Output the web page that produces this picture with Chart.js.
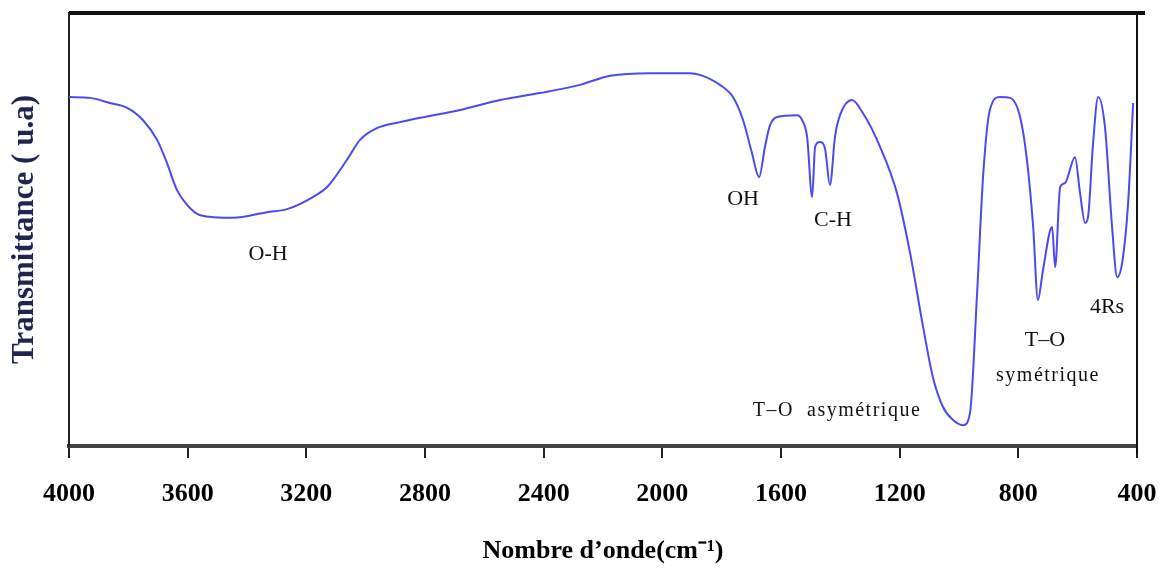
<!DOCTYPE html>
<html>
<head>
<meta charset="utf-8">
<script src="https://cdn.jsdelivr.net/npm/chart.js@4/dist/chart.umd.min.js"></script>
<style>
html,body{margin:0;padding:0;background:#fff;}
#wrap{width:1159px;height:569px;position:relative;}
</style>
</head>
<body>
<div id="wrap"><canvas id="c" width="1159" height="569"></canvas></div>
<script>
// Wavenumbers (cm-1)
const wavenumbers = [4000,3929,3862,3804,3751,3703,3670,3636,3602,3558,3447,3333,3265,3178,3130,3063,3019,2962,2884,2817,2682,2547,2412,2278,2176,2042,1907,1873,1806,1762,1728,1698,1674,1654,1637,1613,1546,1529,1512,1495,1485,1469,1452,1435,1418,1401,1361,1324,1266,1209,1165,1121,1088,1054,1020,986,963,939,919,896,862,828,794,771,750,734,717,686,676,659,643,609,592,575,565,548,531,508,484,467,450,430,413];
// Transmittance (u.a)
const transmittance = [80.6,80.4,79.2,78.1,75.3,70.7,65.4,59.1,55.7,53.3,52.7,54.0,54.7,57.5,59.8,66.1,70.7,73.4,74.8,75.8,77.6,79.9,81.5,83.4,85.5,86.1,86.1,85.7,83.4,80.6,75.3,67.7,62.1,69.1,74.1,76.0,76.4,75.3,71.4,57.5,69.1,70.2,68.8,60.3,71.4,76.4,79.9,76.9,69.1,58.4,44.6,27.5,15.9,9.0,6.0,4.8,7.6,35.3,62.1,77.6,80.6,80.4,76.0,66.1,50.6,33.7,40.6,50.6,41.3,59.8,60.7,66.7,58.4,51.5,52.9,70.0,80.6,73.7,50.6,39.0,42.3,56.1,79.2];
// Tick labels on the x axis
const xTicks = [4000,3600,3200,2800,2400,2000,1600,1200,800,400];
// Band labels
const bandLabels = ["O-H","OH","C-H","T\u2013O  asym\u00e9trique","T\u2013O","sym\u00e9trique","4Rs"];
const bandWavenumbers = [3329,1728,1425,1411,710,700,501];
const bandLevels = [44.3,57.0,52.2,8.1,24.5,16.2,32.1];

const points = wavenumbers.map((w,i)=>({x:w,y:transmittance[i]}));

const framePlugin = {
  id:'frame',
  afterDraw(chart){
    const {ctx, chartArea:a} = chart;
    ctx.save();
    ctx.strokeStyle = '#111';
    ctx.lineWidth = 4;
    ctx.beginPath(); ctx.moveTo(a.left, a.top); ctx.lineTo(a.right+8, a.top); ctx.stroke();
    ctx.lineWidth = 2;
    ctx.beginPath(); ctx.moveTo(a.right, a.top); ctx.lineTo(a.right, a.bottom+8); ctx.stroke();
    // band labels
    const xs = chart.scales.x, ys = chart.scales.y;
    ctx.fillStyle = '#111';
    ctx.textAlign = 'center';
    ctx.textBaseline = 'middle';
    bandLabels.forEach((t,i)=>{
      const big = (t === 'O-H' || t === 'OH' || t === 'C-H' || t === 'T\u2013O' || t==='4Rs');
      ctx.font = (big ? '22px' : '20px') + ' "Liberation Serif", serif';
      ctx.letterSpacing = big ? '0px' : '1.5px';
      ctx.fillText(t, xs.getPixelForValue(bandWavenumbers[i]), ys.getPixelForValue(bandLevels[i]));
    });
    ctx.letterSpacing = '0px';
    ctx.restore();
  }
};

new Chart(document.getElementById('c'), {
  type:'line',
  data:{datasets:[{
    data: points,
    borderColor:'#4a4af2',
    borderWidth:2,
    pointRadius:0,
    fill:false,
    cubicInterpolationMode:'monotone'
  }]},
  options:{
    responsive:false,
    animation:false,
    layout:{padding:{top:13,right:22,left:0,bottom:0}},
    plugins:{legend:{display:false},tooltip:{enabled:false}},
    scales:{
      x:{
        type:'linear',
        reverse:true,
        min:400,max:4000,
        afterBuildTicks(s){ s.ticks = xTicks.map(v=>({value:v})); },
        afterFit(s){ s.height = 123; s.paddingLeft = 0; s.paddingRight = 0; },
        ticks:{
          maxRotation:0, autoSkip:false, padding:21,
          color:'#000',
          font:{family:'"Liberation Serif", serif', size:26, weight:'bold'},
          callback:v=>String(v)
        },
        grid:{display:true, drawOnChartArea:false, drawTicks:true, tickLength:12, color:'#222', lineWidth:2},
        border:{display:true, color:'#444', width:4},
        title:{display:true, text:'Nombre d\u2019onde(cm\u207B\u00B9)', color:'#000',
          font:{family:'"Liberation Serif", serif', size:26, weight:'bold'}, padding:{top:0,bottom:2}}
      },
      y:{
        min:0,max:100,
        afterFit(s){ s.width = 69; s.paddingTop = 0; s.paddingBottom = 0; },
        ticks:{display:false},
        grid:{display:false},
        border:{display:true, color:'#222', width:2},
        title:{display:true, text:'Transmittance ( u.a)', color:'#1e2650',
          font:{family:'"Liberation Serif", serif', size:31, weight:'bold'}, padding:{top:6,bottom:0}}
      }
    }
  },
  plugins:[framePlugin]
});
</script>
</body>
</html>
